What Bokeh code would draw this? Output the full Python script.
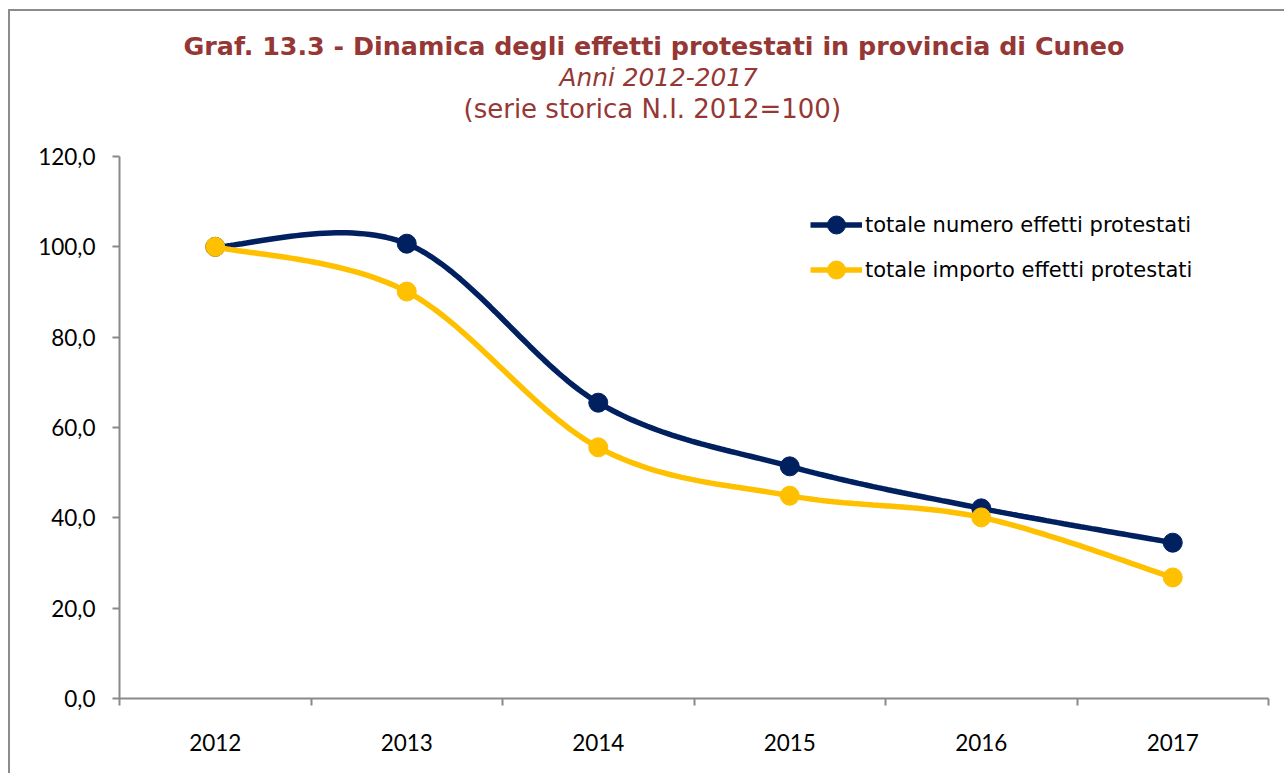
from bokeh.plotting import figure
from bokeh.models import (Range1d, FixedTicker, Legend, LegendItem, Title)
from bokeh.embed import file_html
from bokeh.resources import INLINE
import numpy as np

# ---- data ----
years = ["2012", "2013", "2014", "2015", "2016", "2017"]
numero = [100.0, 100.7, 65.5, 51.4, 42.1, 34.5]
importo = [100.0, 90.1, 55.6, 44.9, 40.1, 26.8]
y_ticks = [0, 20, 40, 60, 80, 100, 120]
y_tick_labels = ["0,0", "20,0", "40,0", "60,0", "80,0", "100,0", "120,0"]
series_names = ["totale numero effetti protestati", "totale importo effetti protestati"]
title_main = "Graf. 13.3 - Dinamica degli effetti protestati in provincia di Cuneo"
title_sub1 = "Anni 2012-2017"
title_sub2 = "(serie storica N.I. 2012=100)"

NAVY = "#002060"
GOLD = "#FFC000"
AXIS = "#898989"
RED = "#953735"

xs = list(range(len(years)))


def smooth(x, y, n=40):
    """Catmull-Rom style Bezier smoothing (like Excel 'smoothed line')."""
    x = np.asarray(x, float)
    y = np.asarray(y, float)
    P = np.column_stack([x, y])
    out = []
    m = len(P)
    for i in range(m - 1):
        p0 = P[i - 1] if i > 0 else P[i]
        p1 = P[i]
        p2 = P[i + 1]
        p3 = P[i + 2] if i + 2 < m else P[i + 1]
        c1 = p1 + (p2 - p0) / 6.0
        c2 = p2 - (p3 - p1) / 6.0
        t = np.linspace(0, 1, n)[:, None]
        seg = ((1 - t) ** 3) * p1 + 3 * ((1 - t) ** 2) * t * c1 + 3 * (1 - t) * t ** 2 * c2 + t ** 3 * p2
        if i > 0:
            seg = seg[1:]
        out.append(seg)
    out = np.vstack(out)
    return out[:, 0], out[:, 1]


p = figure(width=1276, height=764, output_backend="svg", toolbar_location=None,
           x_range=Range1d(-0.5, 5.5), y_range=Range1d(0, 120),
           min_border_left=109, min_border_right=18, min_border_top=145, min_border_bottom=77)
p.styles = {"border-left": "2px solid #8c8c8c", "border-top": "2px solid #8c8c8c",
            "margin-left": "8px", "margin-top": "9px"}
p.outline_line_color = None
p.grid.visible = False
p.background_fill_color = "white"
p.border_fill_color = "white"

# y axis
p.yaxis.ticker = FixedTicker(ticks=y_ticks)
p.yaxis.major_label_overrides = {t: l for t, l in zip(y_ticks, y_tick_labels)}
p.yaxis.axis_line_color = AXIS
p.yaxis.axis_line_width = 2
p.yaxis.major_tick_line_color = AXIS
p.yaxis.major_tick_line_width = 2
p.yaxis.major_tick_out = 7
p.yaxis.major_tick_in = 0
p.yaxis.minor_tick_line_color = None
p.yaxis.major_label_standoff = 17
p.yaxis.major_label_text_font = "Lato"
p.yaxis.major_label_text_font_size = "22.5px"
p.yaxis.major_label_text_color = "black"

# x axis
p.xaxis.ticker = FixedTicker(ticks=xs, minor_ticks=[i - 0.5 for i in range(len(years) + 1)])
p.xaxis.major_label_overrides = {i: yr for i, yr in zip(xs, years)}
p.xaxis.axis_line_color = AXIS
p.xaxis.axis_line_width = 2
p.xaxis.major_tick_line_color = None
p.xaxis.major_tick_out = 0
p.xaxis.major_tick_in = 0
p.xaxis.minor_tick_line_color = AXIS
p.xaxis.minor_tick_line_width = 2
p.xaxis.minor_tick_out = 7
p.xaxis.minor_tick_in = 0
p.xaxis.major_label_standoff = 28
p.xaxis.major_label_text_font = "Lato"
p.xaxis.major_label_text_font_size = "22.5px"
p.xaxis.major_label_text_color = "black"

items = []
for vals, color, name in [(numero, NAVY, series_names[0]), (importo, GOLD, series_names[1])]:
    sx, sy = smooth(xs, vals)
    ln = p.line(sx, sy, line_color=color, line_width=5.5)
    sc = p.scatter(xs, vals, size=19, fill_color=color, line_color=color)
    items.append(LegendItem(label=name, renderers=[ln, sc]))

legend = Legend(items=items, location=(691, 406), orientation="vertical",
                glyph_width=52, glyph_height=45, spacing=0, padding=0, margin=0,
                label_standoff=3, label_text_font="DejaVu Sans", label_text_font_size="21px",
                label_text_color="black", border_line_color=None, background_fill_alpha=0)
p.add_layout(legend)

# titles: stacked outward from the frame (spacer first)
p.add_layout(Title(text=" ", text_font_size="1px", standoff=29), "above")
for txt, style, size, off in [(title_sub2, "normal", "26px", 344),
                              (title_sub1, "italic", "24.8px", 440),
                              (title_main, "bold", "25.4px", 64)]:
    p.add_layout(Title(text=txt, align="left", offset=off, vertical_align="middle", standoff=0,
                       text_font="DejaVu Sans", text_font_size=size,
                       text_font_style=style, text_color=RED), "above")

open("out.html", "w").write(file_html(p, INLINE))
